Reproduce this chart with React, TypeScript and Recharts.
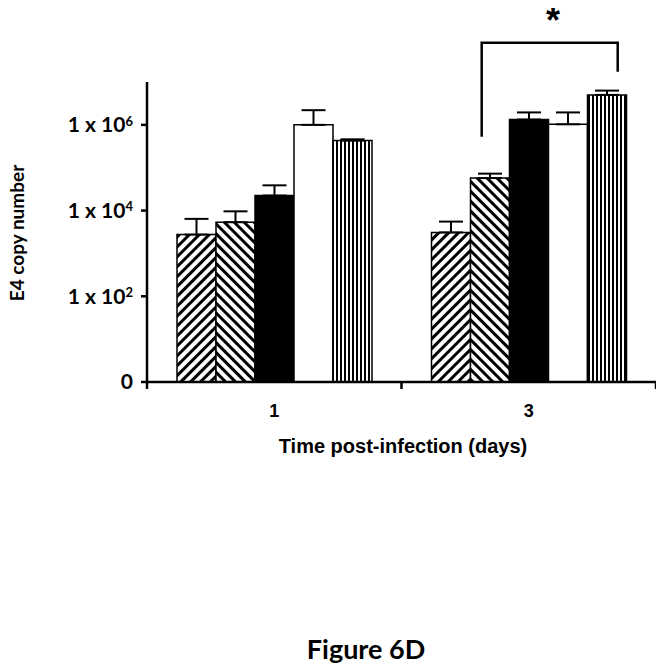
import React from 'react';
import { BarChart, Bar, XAxis, YAxis, ErrorBar } from 'recharts';

// time points (days post-infection)
const days = ['1', '3'];

// E4 copy number, one array per treatment group (means)
const fwdHatch = [2750, 3090];
const backHatch = [5350, 57300];
const solid = [22400, 1330000];
const open = [1000000, 1030000];
const vertical = [430000, 5000000];

// upper error (SD), drawn upward only
const fwdHatchSd = [3650, 2440];
const backHatchSd = [4250, 15400];
const solidSd = [16400, 620000];
const openSd = [1200000, 920000];
const verticalSd = [30000, 1300000];

const yTicks = [1, 100, 10000, 1000000];
const yExponents: Record<number, string> = { 100: '2', 10000: '4', 1000000: '6' };

const W = 656;
const H = 480;
const MARGIN = { top: 74, right: 8, left: 0, bottom: 46 };
const Y_W = 139;
const X_H = 60;
const PLOT_W = W - MARGIN.left - MARGIN.right - Y_W;
const AXIS_Y = H - MARGIN.bottom - X_H;
const BAND = PLOT_W / days.length;

const data = days.map((day, i) => ({
  day,
  s1: fwdHatch[i], e1: [0, fwdHatchSd[i]],
  s2: backHatch[i], e2: [0, backHatchSd[i]],
  s3: solid[i], e3: [0, solidSd[i]],
  s4: open[i], e4: [0, openSd[i]],
  s5: vertical[i], e5: [0, verticalSd[i]],
}));

const series = [
  { key: 's1', err: 'e1', fill: 'url(#hatchFwd)' },
  { key: 's2', err: 'e2', fill: 'url(#hatchBack)' },
  { key: 's3', err: 'e3', fill: '#000' },
  { key: 's4', err: 'e4', fill: '#fff' },
  { key: 's5', err: 'e5', fill: 'url(#hatchVert)' },
];

const YTick = (props: any) => {
  const { x, y, payload } = props;
  const v = payload.value;
  if (v === 1) {
    return (
      <text x={x} y={y} dy="0.35em" textAnchor="end" fontFamily="Lato" fontWeight={700} fontSize={21} fill="#000">
        0
      </text>
    );
  }
  return (
    <text x={x} y={y} dy="0.35em" textAnchor="end" fontFamily="Lato" fontWeight={700} fontSize={21} fill="#000">
      <tspan>1 x 10</tspan>
      <tspan dy={-6.5} fontSize={13}>{yExponents[v]}</tspan>
    </text>
  );
};

const XTick = (props: any) => {
  const { x, payload, index } = props;
  const left = x - BAND / 2;
  return (
    <g>
      <line x1={left} x2={left} y1={AXIS_Y} y2={AXIS_Y + 7} stroke="#000" strokeWidth={2.5} />
      {index === days.length - 1 && (
        <line x1={x + BAND / 2} x2={x + BAND / 2} y1={AXIS_Y} y2={AXIS_Y + 7} stroke="#000" strokeWidth={2.5} />
      )}
      <text x={x} y={AXIS_Y + 29} dy="0.35em" textAnchor="middle" fontFamily="Liberation Sans" fontWeight={700} fontSize={18} fill="#000">
        {payload.value}
      </text>
    </g>
  );
};

export default function App() {
  return (
    <div style={{ position: 'relative', width: W, height: 663 }}>
      <BarChart width={W} height={H} data={data} margin={MARGIN} barCategoryGap={30} barGap={0}>
        <defs>
          <pattern id="hatchFwd" patternUnits="userSpaceOnUse" width={7} height={7} patternTransform="rotate(45)">
            <rect width={7} height={7} fill="#fff" />
            <line x1={1.5} y1={0} x2={1.5} y2={7} stroke="#000" strokeWidth={3} />
          </pattern>
          <pattern id="hatchBack" patternUnits="userSpaceOnUse" width={7} height={7} patternTransform="rotate(-45)">
            <rect width={7} height={7} fill="#fff" />
            <line x1={1.5} y1={0} x2={1.5} y2={7} stroke="#000" strokeWidth={3} />
          </pattern>
          <pattern id="hatchVert" patternUnits="userSpaceOnUse" width={4} height={4}>
            <rect width={4} height={4} fill="#fff" />
            <line x1={1} y1={0} x2={1} y2={4} stroke="#000" strokeWidth={2} />
          </pattern>
        </defs>
        <XAxis
          dataKey="day"
          height={X_H}
          tickLine={false}
          axisLine={{ stroke: '#000', strokeWidth: 2.5 }}
          tick={<XTick />}
          interval={0}
        />
        <YAxis
          width={Y_W}
          scale="log"
          domain={[1, 10000000]}
          allowDataOverflow
          ticks={yTicks}
          tickSize={6}
          tickMargin={8}
          tickLine={{ stroke: '#000', strokeWidth: 2.5 }}
          axisLine={{ stroke: '#000', strokeWidth: 2.5 }}
          tick={<YTick />}
          interval={0}
        />
        {series.map((s) => (
          <Bar key={s.key} dataKey={s.key} fill={s.fill} stroke="#000" strokeWidth={1.5} isAnimationActive={false}>
            <ErrorBar dataKey={s.err} direction="y" width={12} stroke="#000" strokeWidth={2} />
          </Bar>
        ))}
      </BarChart>
      {/* annotations, in page coordinates */}
      <svg width={664} height={671} style={{ position: 'absolute', left: -8, top: -8, pointerEvents: 'none' }}>
        <text transform="translate(24, 233) rotate(-90)" textAnchor="middle" fontFamily="Lato" fontWeight={700} fontSize={19}>
          E4 copy number
        </text>
        <text x={403} y={AXIS_Y + 72} dy="0.35em" textAnchor="middle" fontFamily="Liberation Sans" fontWeight={700} fontSize={20}>
          Time post-infection (days)
        </text>
        <path d="M481.7,136.7 L481.7,42.7 L617.7,42.7 L617.7,71.7" fill="none" stroke="#000" strokeWidth={2.5} />
        <text x={553} y={33} textAnchor="middle" fontFamily="Liberation Sans" fontWeight={700} fontSize={36}>
          *
        </text>
        <text x={366} y={650} dy="0.35em" textAnchor="middle" fontFamily="Lato" fontWeight={700} fontSize={27}>
          Figure 6D
        </text>
      </svg>
    </div>
  );
}
